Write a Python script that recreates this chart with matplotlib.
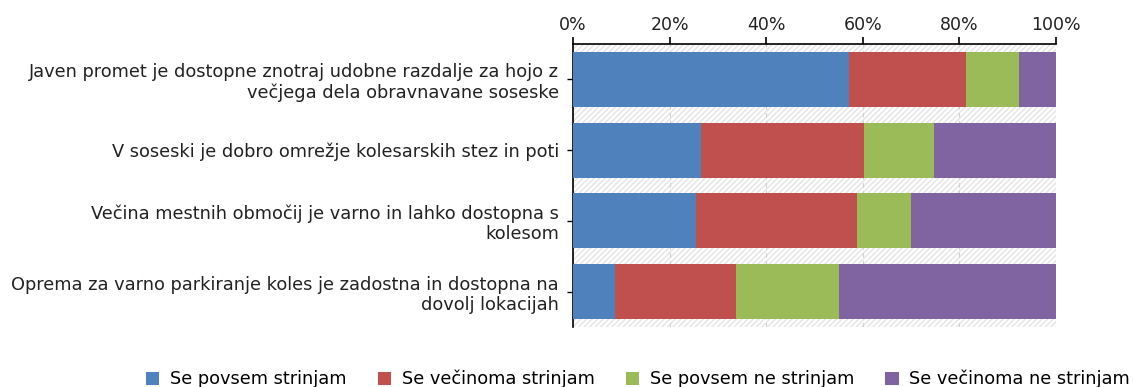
import numpy as np
import matplotlib.pyplot as plt
from matplotlib.patches import Rectangle, Patch
from matplotlib.ticker import FuncFormatter

statements = [
    'Javen promet je dostopne znotraj udobne razdalje za hojo z\nvečjega dela obravnavane soseske',
    'V soseski je dobro omrežje kolesarskih stez in poti',
    'Večina mestnih območij je varno in lahko dostopna s\nkolesom',
    'Oprema za varno parkiranje koles je zadostna in dostopna na\ndovolj lokacijah',
]
answers = ['Se povsem strinjam', 'Se večinoma strinjam',
           'Se povsem ne strinjam', 'Se večinoma ne strinjam']

# share of answers per statement, in percent
povsem_strinjam = [57.1, 26.6, 25.5, 8.6]
vecinoma_strinjam = [24.2, 33.6, 33.4, 25.1]
povsem_ne = [11.0, 14.5, 11.0, 21.4]
vecinoma_ne = [7.7, 25.3, 30.1, 44.9]

colors = ['#4F81BD', '#C0504D', '#9BBB59', '#8064A2']

plt.rcParams['font.family'] = 'DejaVu Sans'
fig = plt.figure(figsize=(11.34, 3.87), dpi=100)
ax = fig.add_axes([573 / 1134, 1 - 327 / 387, 483 / 1134, 283 / 387])

# hatched plot background
ax.add_patch(Rectangle((0, 0), 1, 1, transform=ax.transAxes, facecolor='white',
                       edgecolor='#e4e4e4', hatch='//////', linewidth=0, zorder=0))

ypos = np.arange(len(statements))
left = np.zeros(len(statements))
for vals, col, name in zip([povsem_strinjam, vecinoma_strinjam, povsem_ne, vecinoma_ne],
                           colors, answers):
    ax.barh(ypos, vals, left=left, height=0.78, color=col, label=name, zorder=3)
    left += np.array(vals)

ax.set_xlim(0, 100)
ax.set_ylim(3.5, -0.5)
ax.xaxis.tick_top()
ax.set_xticks(np.arange(0, 101, 20))
ax.xaxis.set_major_formatter(FuncFormatter(lambda v, p: '%d%%' % v))
ax.set_yticks(ypos)
ax.set_yticklabels(statements, fontsize=12.8, color='#222222', linespacing=1.15)
ax.tick_params(axis='x', labelsize=12.5, labelcolor='#222222', length=5, width=1.2, pad=2)
ax.tick_params(axis='y', length=4, width=1, pad=6)
ax.grid(axis='x', color='#d0d0d0', linestyle=(0, (4, 3)), linewidth=0.8, zorder=1)
ax.set_axisbelow(True)

for s in ['right', 'bottom']:
    ax.spines[s].set_visible(False)
ax.spines['top'].set_linewidth(1.2)
ax.spines['left'].set_linewidth(1.2)

handles = [Patch(facecolor=c, edgecolor='none') for c in colors]
fig.legend(handles, answers, loc='center', bbox_to_anchor=(638 / 1134, 1 - 379 / 387),
           ncol=4, frameon=False, fontsize=12.8, handlelength=0.75, handleheight=0.75,
           columnspacing=1.75, handletextpad=0.6)

fig.savefig('out.png', dpi=100)
